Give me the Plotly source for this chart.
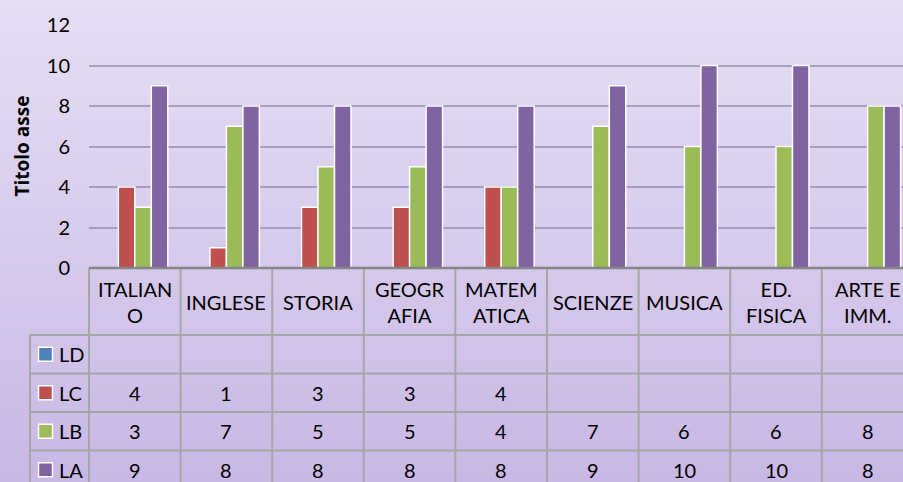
import plotly.graph_objs as go

# Categories (subjects) and the four series
categories = ["ITALIANO", "INGLESE", "STORIA", "GEOGRAFIA", "MATEMATICA",
              "SCIENZE", "MUSICA", "ED. FISICA", "ARTE E IMM."]
header_labels = ["ITALIAN<br>O", "INGLESE", "STORIA", "GEOGR<br>AFIA", "MATEM<br>ATICA",
                 "SCIENZE", "MUSICA", "ED.<br>FISICA", "ARTE E<br>IMM."]
series_names = ["LD", "LC", "LB", "LA"]
ld = [None, None, None, None, None, None, None, None, None]
lc = [4, 1, 3, 3, 4, None, None, None, None]
lb = [3, 7, 5, 5, 4, 7, 6, 6, 8]
la = [9, 8, 8, 8, 8, 9, 10, 10, 8]
y_ticks = [0, 2, 4, 6, 8, 10, 12]
axis_title = "Titolo asse"

colors = ["#4f81bd", "#c0504d", "#9bbb59", "#8064a2"]
FONT = "Lato"

W, H = 903, 482
ML, MT, MB = 89, 25, 214
PW, PH = W - ML, H - MT - MB


def px_x(X):
    return (X - ML) / PW


def px_y(Y):
    return (H - MB - Y) / PH


cell_w = 91.6
x_end = -0.5 + PW / cell_w

fig = go.Figure()
for name, vals, col in zip(series_names, [ld, lc, lb, la], colors):
    fig.add_trace(go.Bar(
        x=list(range(len(categories))), y=vals, name=name,
        marker=dict(color=col, line=dict(color="white", width=1.5)),
        showlegend=False,
    ))

shapes = []
# background gradient
top = (230, 222, 243)
bot = (200, 184, 229)
n = 60
for i in range(n):
    t = i / (n - 1)
    c = tuple(round(top[k] + (bot[k] - top[k]) * t) for k in range(3))
    shapes.append(dict(type="rect", xref="paper", yref="paper", layer="below",
                       x0=px_x(0), x1=px_x(W), y0=px_y(i * H / n), y1=px_y((i + 1) * H / n + 1),
                       fillcolor="rgb(%d,%d,%d)" % c, line=dict(width=0)))

line_col = "#a6a6a6"
header_bottom = 335
row_h = 38.5
row_tops = [header_bottom + i * row_h for i in range(5)]

# horizontal table lines
for Y in row_tops:
    shapes.append(dict(type="line", xref="paper", yref="paper", x0=px_x(30), x1=1,
                       y0=px_y(Y), y1=px_y(Y), line=dict(color=line_col, width=2)))
# left edges
shapes.append(dict(type="line", xref="paper", yref="paper", x0=px_x(30), x1=px_x(30),
                   y0=px_y(header_bottom), y1=px_y(H + 10), line=dict(color=line_col, width=2)))
shapes.append(dict(type="line", xref="paper", yref="paper", x0=0, x1=0,
                   y0=0, y1=px_y(H + 10), line=dict(color=line_col, width=2)))
# category separators
for i in range(1, len(categories)):
    shapes.append(dict(type="line", xref="x", yref="paper", x0=i - 0.5, x1=i - 0.5,
                       y0=0, y1=px_y(H + 10), line=dict(color=line_col, width=2)))
# axis line
shapes.append(dict(type="line", xref="paper", yref="paper", x0=0, x1=1, y0=0, y1=0,
                   line=dict(color="#858585", width=2.5)))

annotations = []
txt_font = dict(family=FONT, size=20, color="#000000")
for i, lab in enumerate(header_labels):
    annotations.append(dict(xref="x", yref="paper", x=i, y=px_y((H - MB + header_bottom) / 2),
                            text=lab, showarrow=False, font=txt_font, xanchor="center",
                            yanchor="middle"))
for r, (name, vals, col) in enumerate(zip(series_names, [ld, lc, lb, la], colors)):
    yc = row_tops[r] + row_h / 2
    shapes.append(dict(type="rect", xref="paper", yref="paper",
                       x0=px_x(38.5), x1=px_x(52.5), y0=px_y(yc - 7), y1=px_y(yc + 7),
                       fillcolor=col, line=dict(color="white", width=1.5)))
    annotations.append(dict(xref="paper", yref="paper", x=px_x(57), y=px_y(yc), text=name,
                            showarrow=False, font=txt_font, xanchor="left", yanchor="middle"))
    for i, v in enumerate(vals):
        if v is None:
            continue
        annotations.append(dict(xref="x", yref="paper", x=i, y=px_y(yc), text=str(v),
                                showarrow=False, font=txt_font, xanchor="center",
                                yanchor="middle"))

annotations.append(dict(xref="paper", yref="paper", x=px_x(21), y=0.5, text="<b>" + axis_title + "</b>",
                        textangle=-90, showarrow=False, xanchor="center", yanchor="middle",
                        font=dict(family="Open Sans", size=19, color="#000000")))

layout = go.Layout(
    width=W, height=H,
    margin=dict(l=ML, r=0, t=MT, b=MB, pad=0),
    paper_bgcolor="#ddd2f0", plot_bgcolor="rgba(0,0,0,0)",
    barmode="group", bargap=0.28, bargroupgap=0,
    xaxis=dict(range=[-0.5, x_end], showticklabels=False, showgrid=False,
               zeroline=False, showline=False, ticks=""),
    yaxis=dict(range=[0, 12], tickvals=y_ticks, showgrid=True, gridcolor="#a99dbe",
               gridwidth=2, zeroline=False, showline=False, ticks="",
               ticklabelstandoff=18, tickfont=dict(family=FONT, size=20, color="#000000")),
    shapes=shapes, annotations=annotations,
    font=dict(family=FONT),
)

fig.update_layout(layout)
fig.write_html("out.html", config={"displayModeBar": False},
               post_script="document.body.style.margin='0';")
